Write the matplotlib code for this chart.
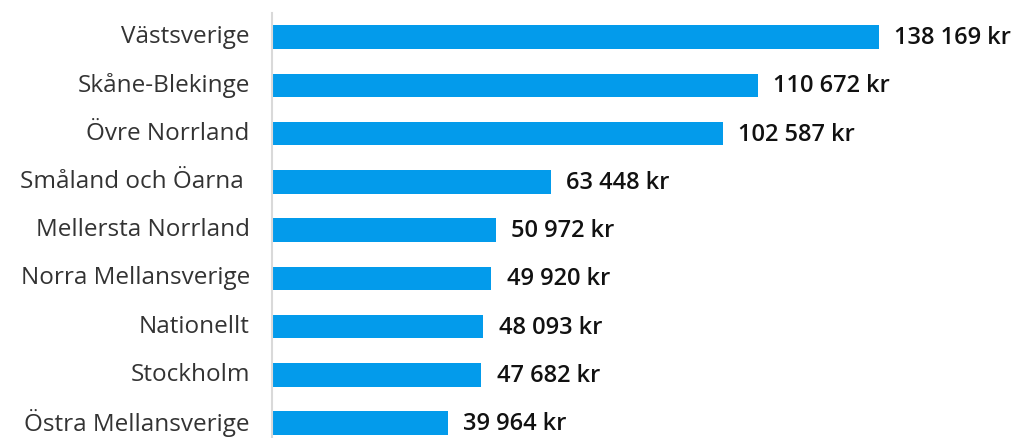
import numpy as np
import matplotlib
matplotlib.use('Agg')
import matplotlib.pyplot as plt
from matplotlib.transforms import ScaledTranslation

# Data
regions = ['Västsverige', 'Skåne-Blekinge', 'Övre Norrland', 'Småland och Öarna ',
           'Mellersta Norrland', 'Norra Mellansverige', 'Nationellt', 'Stockholm',
           'Östra Mellansverige']
values = [138169, 110672, 102587, 63448, 50972, 49920, 48093, 47682, 39964]

plt.rcParams['font.family'] = ['Open Sans', 'DejaVu Sans']

fig = plt.figure(figsize=(10.16, 4.39), dpi=100)
ax = fig.add_axes([272 / 1016, 0, 1 - 272 / 1016, 1 - 14 / 439])

y = np.arange(len(regions))
ax.barh(y, values, height=0.49, color='#039BEB')

for yi, v in zip(y, values):
    label = '{:,} kr'.format(v).replace(',', ' ')
    ax.text(v + 3500, yi, label, va='center', ha='left', fontsize=17,
            color='#111111', fontweight='semibold')

ax.set_yticks(y)
ax.set_yticklabels(regions, fontsize=17.5, color='#333333')
ax.tick_params(axis='y', length=0, pad=16)
# nudge category labels up a little
shift = ScaledTranslation(0, 4 / 100, fig.dpi_scale_trans)
for lab in ax.get_yticklabels():
    lab.set_transform(lab.get_transform() + shift)
ax.set_xticks([])
ax.set_xlim(0, 169400)
ax.set_ylim(8.308, -0.5)

for side in ['top', 'right', 'bottom']:
    ax.spines[side].set_visible(False)
ax.spines['left'].set_color('#d9d9d9')
ax.spines['left'].set_linewidth(1.5)

fig.savefig('out.png', dpi=100)
